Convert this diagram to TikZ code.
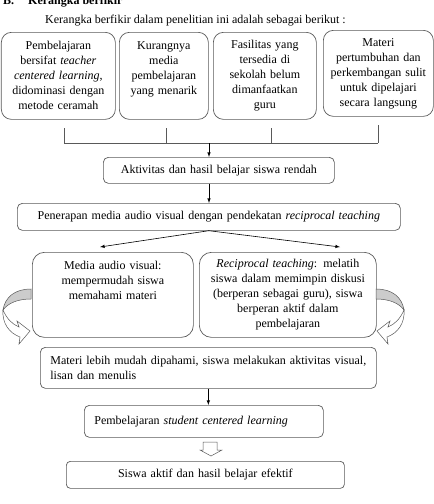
\documentclass[tikz,border=0pt]{standalone}
\usepackage{fontspec}
\setmainfont{Liberation Serif}
\usetikzlibrary{positioning, arrows, calc}

\definecolor{boxline}{gray}{0.35}
\definecolor{bandfill}{gray}{0.8}

\begin{document}
\begin{tikzpicture}[
            x=1pt, y=-1pt,
            font=\fontsize{12}{15}\selectfont,
            box/.style={draw=boxline, line width=0.7pt, anchor=north west, align=center, inner xsep=3pt, inner ysep=0pt},
            topbox/.style={box, rounded corners=10pt, minimum height=87pt},
            midbox/.style={box, rounded corners=12pt, minimum height=85pt},
            flatbox/.style={box, rounded corners=5pt},
            link/.style={draw=boxline, line width=0.7pt},
            arr/.style={-latex, line width=0.6pt},
            band/.style={draw=boxline, line width=0.5pt},
        ]
            \useasboundingbox (0,0) rectangle (434,504);
            \clip (0,0) rectangle (434,504);

            \node[anchor=base west, inner sep=0pt, font=\fontsize{12}{15}\selectfont\bfseries] (judul) at (3,4) {B.\hspace{14pt}Kerangka berfikir};
            \node[anchor=base west, inner sep=0pt] (intro) at (45,23) {Kerangka berfikir dalam penelitian ini adalah sebagai berikut :};

            \node[topbox, text width=108pt] (p1) at (1,32) {Pembelajaran\\ bersifat \textit{teacher}\\ \textit{centered learning},\\ didominasi dengan\\ metode ceramah};
            \node[topbox, text width=83pt] (p2) at (119,32) {Kurangnya\\ media\\ pembelajaran\\ yang menarik\\ \mbox{}};
            \node[topbox, text width=97pt] (p3) at (213,32) {Fasilitas yang\\ tersedia di\\ sekolah belum\\ dimanfaatkan\\ guru};
            \node[topbox, text width=104pt, minimum height=86pt] (p4) at (323,30) {Materi\\ pertumbuhan dan\\ perkembangan sulit\\ untuk dipelajari\\ secara langsung};

            \foreach \x/\t in {64/128, 166/128, 271/128, 378/125} {
                \draw[link] (\x,\t) -- (\x,143);
            }
            \draw[link] (64,143) -- (378,143);
            \coordinate (jm) at (209,143);

            \node[flatbox, text width=225pt, minimum height=26pt] (akt) at (103,157) {Aktivitas dan hasil belajar siswa rendah};
            \node[flatbox, text width=377pt, minimum height=27pt] (pen) at (17,203) {Penerapan media audio visual dengan pendekatan \textit{reciprocal teaching}};

            \draw[arr] (jm) -- (jm |- akt.north);
            \draw[arr] (jm |- akt.south) -- (jm |- pen.north);

            \node[midbox, text width=155pt] (med) at (32,252) {Media audio visual:\\ mempermudah siswa\\ memahami materi\\ \mbox{}\\ \mbox{}};
            \node[midbox, text width=171pt] (rec) at (199,252) {\textit{Reciprocal teaching}: melatih\\ siswa dalam memimpin diskusi\\ (berperan sebagai guru), siswa\\ berperan aktif dalam\\ pembelajaran};

            \coordinate (tl) at (100,247);
            \coordinate (tr) at (340,247);
            \draw[arr] (pen.south) -- (tl);
            \draw[arr] (pen.south) -- (tr);

            \node[flatbox, align=left, text width=316pt, inner xsep=10pt, minimum height=41pt] (mat) at (40,347) {Materi lebih mudah dipahami, siswa melakukan aktivitas visual,\\ lisan dan menulis};
            \node[flatbox, align=left, text width=219pt, inner xsep=10pt, minimum height=32pt] (pmb) at (84,405) {Pembelajaran \textit{student centered learning}};
            \node[flatbox, rounded corners=4pt, text width=272pt, minimum height=27pt] (hasil) at (66,461) {Siswa aktif dan hasil belajar efektif};

            \draw[arr] (mat.south) -- (mat.south |- pmb.north);
            \draw[band, fill=white] (203,442) -- (217,442) -- (217,450) -- (222,450) -- (211,456) -- (200,450) -- (203,450) -- cycle;

            \foreach \s/\sx in {0/1, 407/-1} {
                \begin{scope}[shift={(\s,0)}, xscale=\sx]
                    \draw[band, fill=bandfill] (31,289) .. controls (15,289) and (5,297) .. (3,310) .. controls (8,303) and (18,299) .. (31,299) -- cycle;
                    \draw[band, fill=white] (3,310) .. controls (2,323) and (9,333) .. (20,337) -- (19,344) -- (30,331) -- (17,321) -- (19,327) .. controls (12,324) and (7,319) .. (3,310) -- cycle;
                \end{scope}
            }
        \end{tikzpicture}
\end{document}
